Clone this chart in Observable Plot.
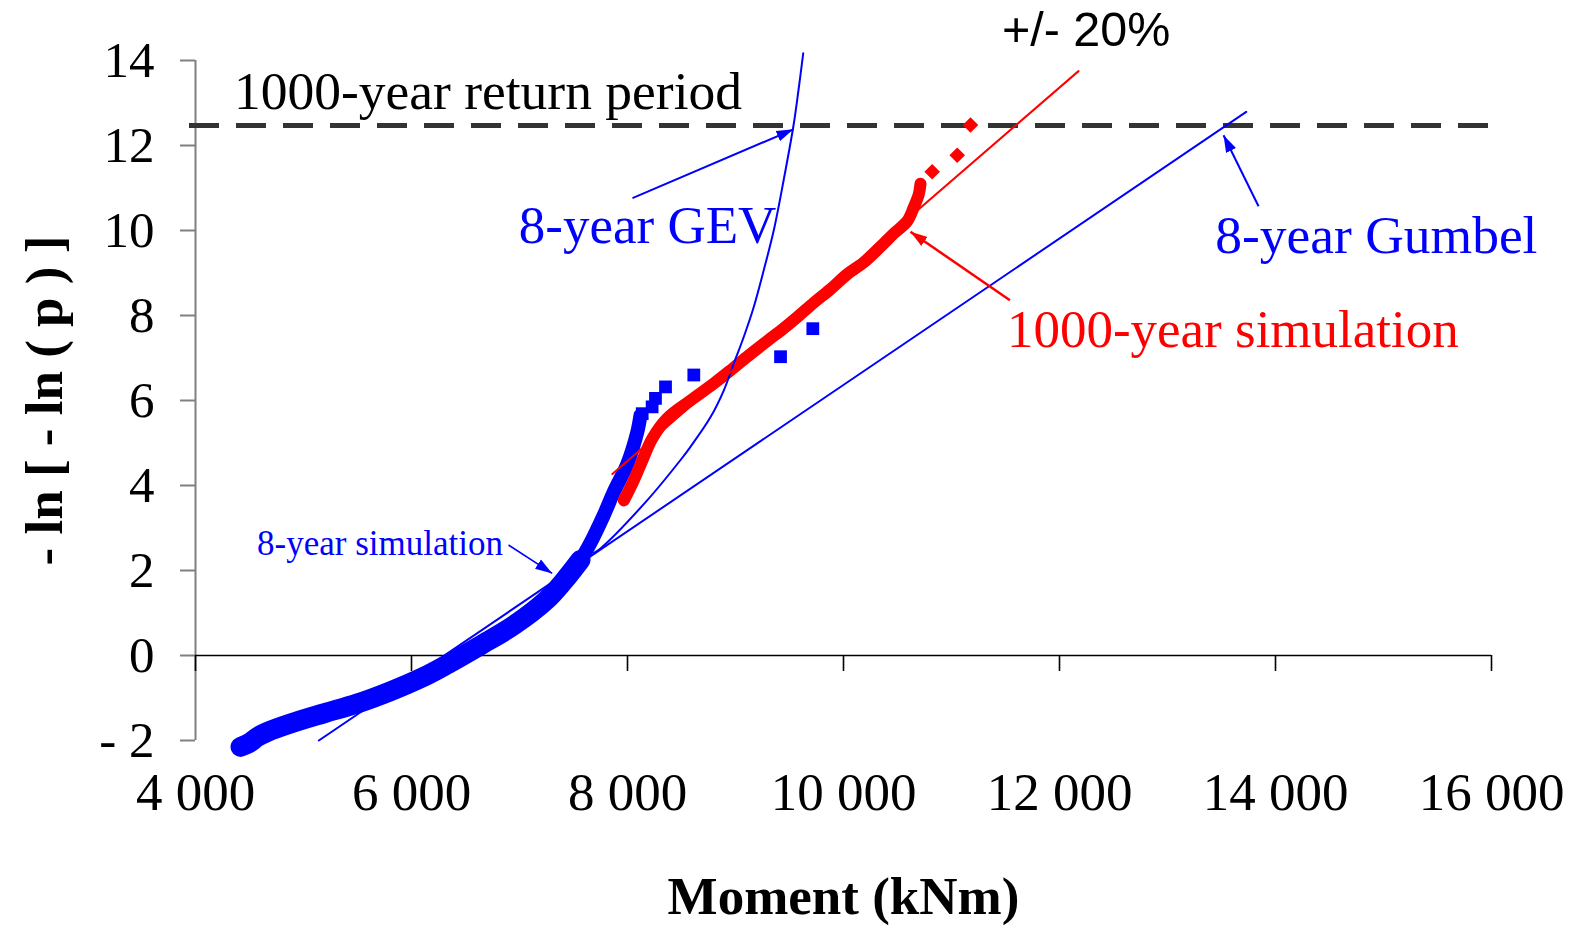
<!DOCTYPE html>
<html><head><meta charset="utf-8">
<script src="https://cdn.jsdelivr.net/npm/d3@7"></script>
<script src="https://cdn.jsdelivr.net/npm/@observablehq/plot@0.6"></script>
<style>body{margin:0;background:#fff}</style>
</head><body><div id="chart"></div>
<script>
// ---- axes ----
const xTicks = [4000, 6000, 8000, 10000, 12000, 14000, 16000];
const yTicks = [-2, 0, 2, 4, 6, 8, 10, 12, 14];
const returnPeriodLevel = [12.47];

// ---- 8-year simulation (blue band + isolated squares) ----
const sim8Moment = [4417, 4509, 4571, 4664, 4880, 5188, 5497, 5806, 6114, 6330, 6639, 6947, 7256, 7410, 7565, 7657, 7780, 7873, 7997, 8090, 8120];
const sim8Value  = [-2.15, -2.04, -1.92, -1.80, -1.60, -1.36, -1.13, -0.84, -0.50, -0.21, 0.24, 0.71, 1.32, 1.75, 2.25, 2.65, 3.30, 3.85, 4.50, 5.25, 5.65];
const sim8TailMoment = [8136, 8228, 8259, 8352, 8614, 9417, 9716];
const sim8TailValue  = [5.69, 5.85, 6.05, 6.32, 6.60, 7.03, 7.69];

// ---- 1000-year simulation (red band + isolated diamonds) ----
const sim1000Moment = [7966, 8058, 8151, 8228, 8367, 8583, 8799, 8954, 9108, 9294, 9447, 9580, 9725, 9880, 10034, 10188, 10343, 10466, 10590, 10651, 10697, 10713];
const sim1000Value  = [3.65, 4.12, 4.67, 5.10, 5.58, 6.00, 6.40, 6.71, 7.03, 7.40, 7.70, 7.98, 8.30, 8.62, 8.97, 9.25, 9.62, 9.93, 10.22, 10.55, 10.85, 11.10];
const sim1000TailMoment = [10821, 11053, 11176];
const sim1000TailValue  = [11.38, 11.77, 12.48];

// ---- fitted distributions ----
const gevMoment = [7685, 7750, 8182, 8491, 8583, 8769, 8892, 8984, 9077, 9169, 9262, 9355, 9447, 9537, 9583, 9627];
const gevValue  = [2.41, 2.52, 3.65, 4.60, 4.91, 5.61, 6.24, 6.87, 7.50, 8.20, 9.07, 10.01, 11.20, 12.47, 13.30, 14.17];
const gumbelMoment = [5142, 13729];
const gumbelValue  = [-2.0, 12.79];
const band20Moment = [7860, 12176];
const band20Value  = [4.27, 13.75];

// ---- annotations (text, anchor in data units) ----
const labelTexts = ["1000-year return period", "+/- 20%", "8-year GEV", "8-year Gumbel", "1000-year simulation", "8-year simulation"];
const labelMoment = [4356, 11467, 6994, 13441, 11513, 4570];
const labelValue  = [12.86, 14.33, 9.71, 9.48, 7.25, 2.37];
// arrows: from -> to
const arrowFromMoment = [8046, 13843, 11541, 6898];
const arrowFromValue  = [10.76, 10.57, 8.36, 2.60];
const arrowToMoment   = [9537, 13519, 10620, 7303];
const arrowToValue    = [12.38, 12.24, 9.97, 1.93];

const BLUE = "#0000ff", RED = "#ff0000";
const pts = (xs, ys) => xs.map((x, i) => ({x, y: ys[i]}));
const sim8 = pts(sim8Moment, sim8Value);
const sim8Tail = pts(sim8TailMoment, sim8TailValue);
const sim1000 = pts(sim1000Moment, sim1000Value);
const sim1000Tail = pts(sim1000TailMoment, sim1000TailValue);
const gev = pts(gevMoment, gevValue);
const gumbel = pts(gumbelMoment, gumbelValue);
const band20 = pts(band20Moment, band20Value);
const labels = labelTexts.map((t, i) => ({t, x: labelMoment[i], y: labelValue[i]}));
const arrows = arrowFromMoment.map((x1, i) => ({x1, y1: arrowFromValue[i], x2: arrowToMoment[i], y2: arrowToValue[i]}));

function filledArrow(color) {
  const ns = "http://www.w3.org/2000/svg";
  const m = document.createElementNS(ns, "marker");
  m.setAttribute("viewBox", "-17 -6 17 12");
  m.setAttribute("markerWidth", 17);
  m.setAttribute("markerHeight", 12);
  m.setAttribute("markerUnits", "userSpaceOnUse");
  m.setAttribute("orient", "auto");
  m.setAttribute("refX", 0);
  m.setAttribute("refY", 0);
  const p = document.createElementNS(ns, "path");
  p.setAttribute("d", "M-17,-5.5L0,0L-17,5.5Z");
  p.setAttribute("fill", color);
  p.setAttribute("stroke", "none");
  m.appendChild(p);
  return m;
}

const fmtX = d => d3.format(",")(d).replace(/,/g, " ");
const fmtY = d => d < 0 ? "- " + Math.abs(d) : String(d);
const SERIF = "Liberation Serif, Times New Roman, serif";
const SANS = "Liberation Sans, Arial, sans-serif";

const lab = (i, opts) => Plot.text([labels[i]], {x: "x", y: "y", text: "t", textAnchor: "start", lineAnchor: "bottom", fontFamily: SERIF, ...opts});

const chart = Plot.plot({
  width: 1578, height: 930,
  marginLeft: 195, marginRight: 87, marginTop: 60, marginBottom: 190,
  x: {domain: [4000, 16000]},
  y: {domain: [-2, 14]},
  style: {fontFamily: SERIF, fontSize: "48px", background: "white", overflow: "visible", color: "black"},
  marks: [
    Plot.ruleX([4000], {stroke: "#808080", strokeWidth: 2}),
    Plot.axisY({ticks: yTicks, tickSize: 15, tickPadding: 26, stroke: "#808080", strokeWidth: 2, tickFormat: fmtY, fontSize: 51, fontFamily: SERIF, fill: "black", label: null}),
    Plot.axisX({ticks: xTicks, tickSize: 0, tickPadding: 32, tickFormat: fmtX, fontSize: 53, fontFamily: SERIF, fill: "black", label: null}),
    Plot.ruleY([0], {stroke: "black", strokeWidth: 1.6}),
    Plot.ruleX(xTicks, {y1: 0, y2: 0, insetBottom: -16, stroke: "black", strokeWidth: 1.6}),
    Plot.ruleY(returnPeriodLevel, {stroke: "#333333", strokeWidth: 5, strokeDasharray: "30,17", insetLeft: -6}),
    // 8-year simulation band
    Plot.line(sim8, {filter: d => d.x <= 7565, x: "x", y: "y", stroke: BLUE, strokeWidth: 20, curve: "catmull-rom", strokeLinejoin: "round"}),
    Plot.line(sim8, {filter: d => d.x >= 7410, x: "x", y: "y", stroke: BLUE, strokeWidth: 14, curve: "catmull-rom", strokeLinejoin: "round"}),
    Plot.dot(sim8.slice(0, 4), {x: "x", y: "y", symbol: "square", r: 6.5, fill: BLUE}),
    Plot.dot(sim8Tail, {x: "x", y: "y", symbol: "square", r: 7.2, fill: BLUE}),
    // 1000-year simulation band
    Plot.line(sim1000, {x: "x", y: "y", stroke: RED, strokeWidth: 12, curve: "catmull-rom", strokeLinejoin: "round"}),
    Plot.dot(sim1000Tail, {x: "x", y: "y", symbol: "diamond2", r: 7, fill: RED}),
    // fits
    Plot.line(gumbel, {x: "x", y: "y", stroke: BLUE, strokeWidth: 2}),
    Plot.line(gev, {x: "x", y: "y", stroke: BLUE, strokeWidth: 2, curve: "catmull-rom"}),
    Plot.line(band20, {x: "x", y: "y", stroke: RED, strokeWidth: 2}),
    // arrows
    Plot.link([arrows[0], arrows[1]], {x1: "x1", y1: "y1", x2: "x2", y2: "y2", stroke: BLUE, strokeWidth: 2, markerEnd: filledArrow}),
    Plot.link([arrows[2]], {x1: "x1", y1: "y1", x2: "x2", y2: "y2", stroke: RED, strokeWidth: 2.5, markerEnd: filledArrow}),
    Plot.link([arrows[3]], {x1: "x1", y1: "y1", x2: "x2", y2: "y2", stroke: BLUE, strokeWidth: 1.5, markerEnd: filledArrow}),
    // labels
    lab(0, {fill: "black", fontSize: 53.5}),
    lab(1, {fill: "black", fontSize: 48.5, fontFamily: SANS}),
    lab(2, {fill: BLUE, fontSize: 53}),
    lab(3, {fill: BLUE, fontSize: 53.5}),
    lab(4, {fill: RED, fontSize: 53}),
    lab(5, {fill: BLUE, fontSize: 35}),
    // axis titles
    Plot.text(["- ln [ - ln ( p ) ]"], {text: d => d, frameAnchor: "left", rotate: -90, dx: -150, textAnchor: "middle", lineAnchor: "middle", fontSize: 53, fontWeight: "bold", fontFamily: SERIF, fill: "black"}),
    Plot.text(["Moment (kNm)"], {text: d => d, frameAnchor: "bottom", dy: 157, textAnchor: "middle", lineAnchor: "middle", fontSize: 53, fontWeight: "bold", fontFamily: SERIF, fill: "black"})
  ]
});
document.getElementById("chart").appendChild(chart);
</script>
</body></html>
